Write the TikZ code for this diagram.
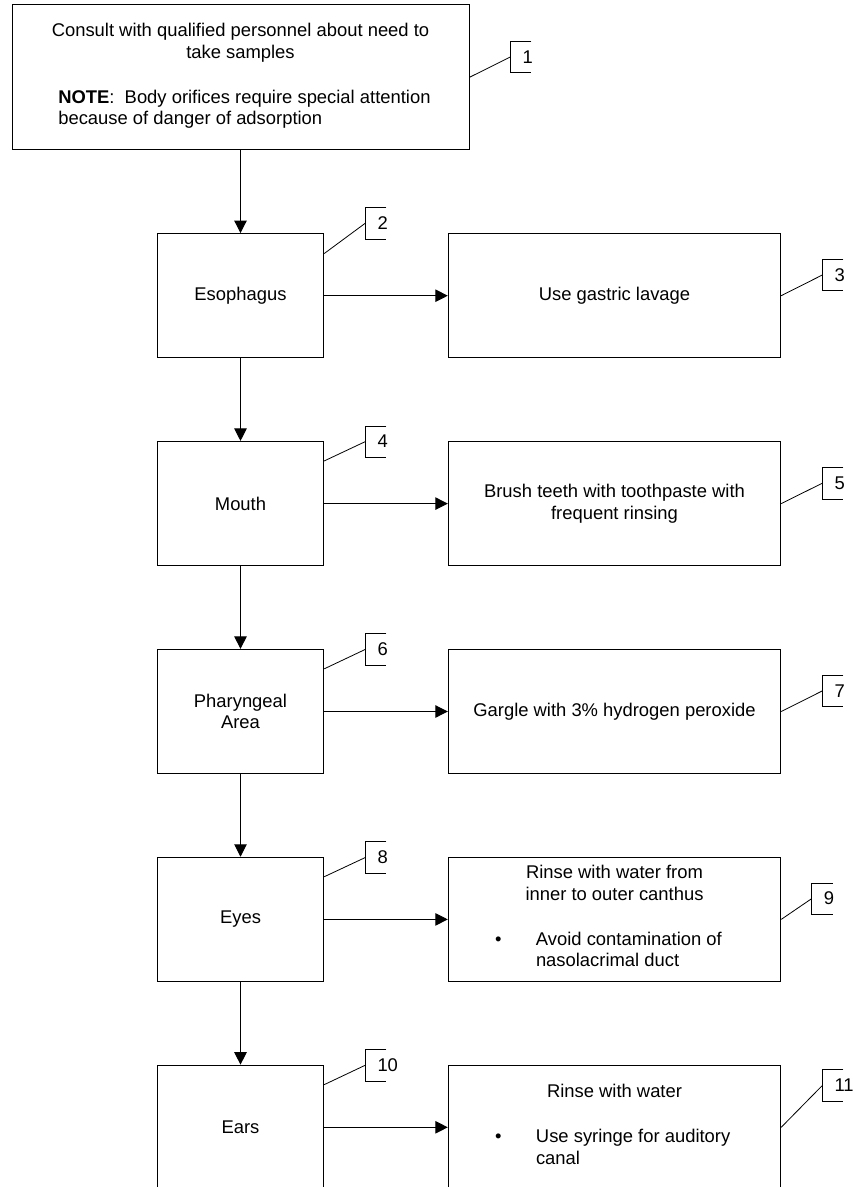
\documentclass[tikz,border=0pt]{standalone}
\usepackage{fontspec}
\setmainfont{Liberation Sans}
\usetikzlibrary{arrows.meta}
\newcommand\fs{\fontsize{18.4pt}{21.5pt}\selectfont}
\newcommand\bul[2]{\makebox[238.8pt][l]{\begin{tabular}[t]{@{}l@{}l@{}}\makebox[40.9pt][l]{\textbullet}&#1\\&#2\end{tabular}}}
\newcommand\mkcallout[4]{%
  \node[callout] (#1) at (#2,#3) {\hspace*{12pt}#4};
  \draw[leader] ([xshift=21pt]#1.north west) -- (#1.north west) -- (#1.south west) -- ([xshift=21pt]#1.south west);
}
\tikzset{
  box/.style={draw, line width=1pt, rectangle, inner sep=0pt, align=center, font=\fs},
  lbox/.style={box, minimum width=166.4pt, minimum height=124.3pt},
  rbox/.style={box, minimum width=332.4pt, minimum height=124.3pt},
  flow/.style={-{Triangle[length=12.5pt,width=12.5pt]}, line width=1pt},
  leader/.style={line width=0.8pt},
  callout/.style={anchor=west, inner sep=0pt, minimum height=31pt, font=\fs},
}
\begin{document}
\begin{tikzpicture}[x=1pt,y=-1pt]
\useasboundingbox (0,0) rectangle (856,1187);
\clip (0,0) rectangle (856,1187);

% top box
\node[box, minimum width=457pt, minimum height=145.3pt] (b1) at (240.5,77.3)
  {Consult with qualified personnel about need to\\take samples\\[23.5pt]%
   \makebox[364.4pt][l]{\begin{tabular}[t]{@{}l@{}}\textbf{NOTE}:\ \ Body orifices require special attention\\because of danger of adsorption\end{tabular}}};

% left column
\node[lbox] (l1) at (240.5,295.7) {Esophagus};
\node[lbox] (l2) at (240.5,503.6) {Mouth};
\node[lbox] (l3) at (240.5,711.5) {Pharyngeal\\Area};
\node[lbox] (l4) at (240.5,919.4) {Eyes};
\node[lbox] (l5) at (240.5,1127.3) {Ears};

% right column
\node[rbox] (r1) at (614.5,295.7) {Use gastric lavage};
\node[rbox] (r2) at (614.5,503.6) {Brush teeth with toothpaste with\\frequent rinsing};
\node[rbox] (r3) at (614.5,711.5) {Gargle with 3\% hydrogen peroxide};
\node[rbox] (r4) at (614.5,919.4) {Rinse with water from\\inner to outer canthus\\[23.5pt]\bul{Avoid contamination of}{nasolacrimal duct}};
\node[rbox] (r5) at (614.5,1127.3) {Rinse with water\\[23.5pt]\bul{Use syringe for auditory}{canal}};

% flow arrows
\draw[flow] (b1.south) -- (l1.north);
\draw[flow] (l1.south) -- (l2.north);
\draw[flow] (l2.south) -- (l3.north);
\draw[flow] (l3.south) -- (l4.north);
\draw[flow] (l4.south) -- (l5.north);
\draw[flow] (l1.east) -- (r1.west);
\draw[flow] (l2.east) -- (r2.west);
\draw[flow] (l3.east) -- (r3.west);
\draw[flow] (l4.east) -- (r4.west);
\draw[flow] (l5.east) -- (r5.west);

% callouts
\mkcallout{c1}{510.3}{57}{1}
\mkcallout{c2}{365.3}{223.2}{2}
\mkcallout{c3}{822.3}{275}{3}
\mkcallout{c4}{365.3}{441.6}{4}
\mkcallout{c5}{822.3}{483.2}{5}
\mkcallout{c6}{365.3}{649.4}{6}
\mkcallout{c7}{822.3}{690.9}{7}
\mkcallout{c8}{365.3}{857.5}{8}
\mkcallout{c9}{811.7}{898.6}{9}
\mkcallout{c10}{365.3}{1065.2}{10}
\mkcallout{c11}{822.3}{1085.5}{11}

% leaders
\draw[leader] (b1.east) -- (c1.west);
\draw[leader] ([yshift=-20.5pt]l1.north east) -- (c2.west);
\draw[leader] ([yshift=-20pt]l2.north east) -- (c4.west);
\draw[leader] ([yshift=-20pt]l3.north east) -- (c6.west);
\draw[leader] ([yshift=-20pt]l4.north east) -- (c8.west);
\draw[leader] ([yshift=-20pt]l5.north east) -- (c10.west);
\draw[leader] (r1.east) -- (c3.west);
\draw[leader] (r2.east) -- (c5.west);
\draw[leader] (r3.east) -- (c7.west);
\draw[leader] (r4.east) -- (c9.west);
\draw[leader] (r5.east) -- (c11.west);
\end{tikzpicture}
\end{document}
